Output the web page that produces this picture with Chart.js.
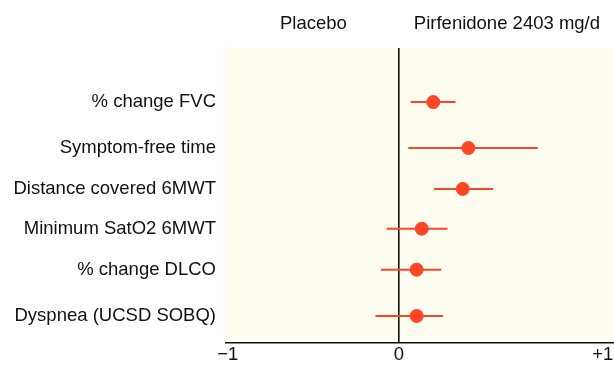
<!DOCTYPE html>
<html>
<head>
<meta charset="utf-8">
<script src="https://cdn.jsdelivr.net/npm/chart.js@4"></script>
<style>
  html, body { margin: 0; padding: 0; background: #fff; }
  #wrap { width: 614px; height: 365px; position: relative; }
</style>
</head>
<body>
<div id="wrap"><canvas id="forest"></canvas></div>
<script>
// outcomes, top to bottom
const outcomes = [
  '% change FVC',
  'Symptom-free time',
  'Distance covered 6MWT',
  'Minimum SatO2 6MWT',
  '% change DLCO',
  'Dyspnea (UCSD SOBQ)'
];
// vertical slot of each row (rows are not evenly spaced in the original)
const rowPos = [1.32, 2.44, 3.44, 4.41, 5.41, 6.54];
// effect estimate and interval ends
const estimate = [0.20, 0.405, 0.372, 0.133, 0.103, 0.103];
const lower    = [0.068, 0.054, 0.205, -0.072, -0.105, -0.138];
const upper    = [0.33, 0.81, 0.55, 0.283, 0.246, 0.257];

const xTickValues = [-1, 0, 1.19];
const xTickLabels = ['\u22121', '0', '+1'];
const headers = ['Placebo', 'Pirfenidone 2403 mg/d'];
const headerPos = [-0.5, 0.63];

const red = '#ff4528';
const font = 'Liberation Sans, Arial, Helvetica, sans-serif';

// pale yellow panel + column headers
const panelPlugin = {
  id: 'panel',
  beforeDraw(chart) {
    const { ctx, chartArea: a } = chart;
    ctx.save();
    ctx.fillStyle = '#fffdf0';
    ctx.fillRect(a.left, a.top, a.right - a.left, a.bottom - a.top);
    ctx.restore();
  },
  afterDraw(chart) {
    const ctx = chart.ctx;
    const xs = chart.scales.x;
    ctx.save();
    ctx.fillStyle = '#111';
    ctx.font = '18.5px ' + font;
    ctx.textAlign = 'center';
    ctx.textBaseline = 'middle';
    headers.forEach((h, i) => ctx.fillText(h, xs.getPixelForValue(headerPos[i]), 24));
    ctx.restore();
  }
};

// one dataset per interval, then the point estimates on top
const datasets = [];
outcomes.forEach((o, i) => {
  datasets.push({
    type: 'line',
    data: [{ x: lower[i], y: rowPos[i] }, { x: upper[i], y: rowPos[i] }],
    borderColor: red,
    borderWidth: 2,
    pointRadius: 0,
    fill: false
  });
});
datasets.push({
  type: 'scatter',
  data: outcomes.map((o, i) => ({ x: estimate[i], y: rowPos[i] })),
  backgroundColor: red,
  borderColor: red,
  pointRadius: 6.5,
  pointHoverRadius: 6.5
});

new Chart(document.getElementById('forest'), {
  type: 'scatter',
  data: { datasets: datasets },
  options: {
    responsive: true,
    maintainAspectRatio: false,
    animation: false,
    layout: { autoPadding: false, padding: { top: 48, right: 0, left: 0, bottom: 0 } },
    plugins: { legend: { display: false }, tooltip: { enabled: false } },
    scales: {
      x: {
        type: 'linear',
        min: -1.01,
        max: 1.255,
        afterBuildTicks: s => { s.ticks = xTickValues.map(v => ({ value: v })); },
        afterFit: s => { s.height = 22; s.paddingLeft = 0; s.paddingRight = 0; },
        ticks: {
          color: '#111',
          font: { size: 18.5, family: font },
          padding: 1,
          maxRotation: 0,
          autoSkip: false,
          callback: (v, i) => xTickLabels[i]
        },
        grid: {
          drawTicks: false,
          lineWidth: 1.6,
          color: c => (c.tick && c.tick.value === 0 ? '#111' : 'rgba(0,0,0,0)')
        },
        border: { display: true, color: '#111', width: 1.6 }
      },
      y: {
        type: 'linear',
        reverse: true,
        min: 0,
        max: 7.2,
        afterBuildTicks: s => { s.ticks = rowPos.map(v => ({ value: v })); },
        afterFit: s => { s.width = 226; },
        ticks: {
          color: '#111',
          font: { size: 18.5, family: font },
          padding: 10,
          autoSkip: false,
          callback: (v, i) => outcomes[i]
        },
        grid: { display: false, drawTicks: false },
        border: { display: false }
      }
    }
  },
  plugins: [panelPlugin]
});
</script>
</body>
</html>
